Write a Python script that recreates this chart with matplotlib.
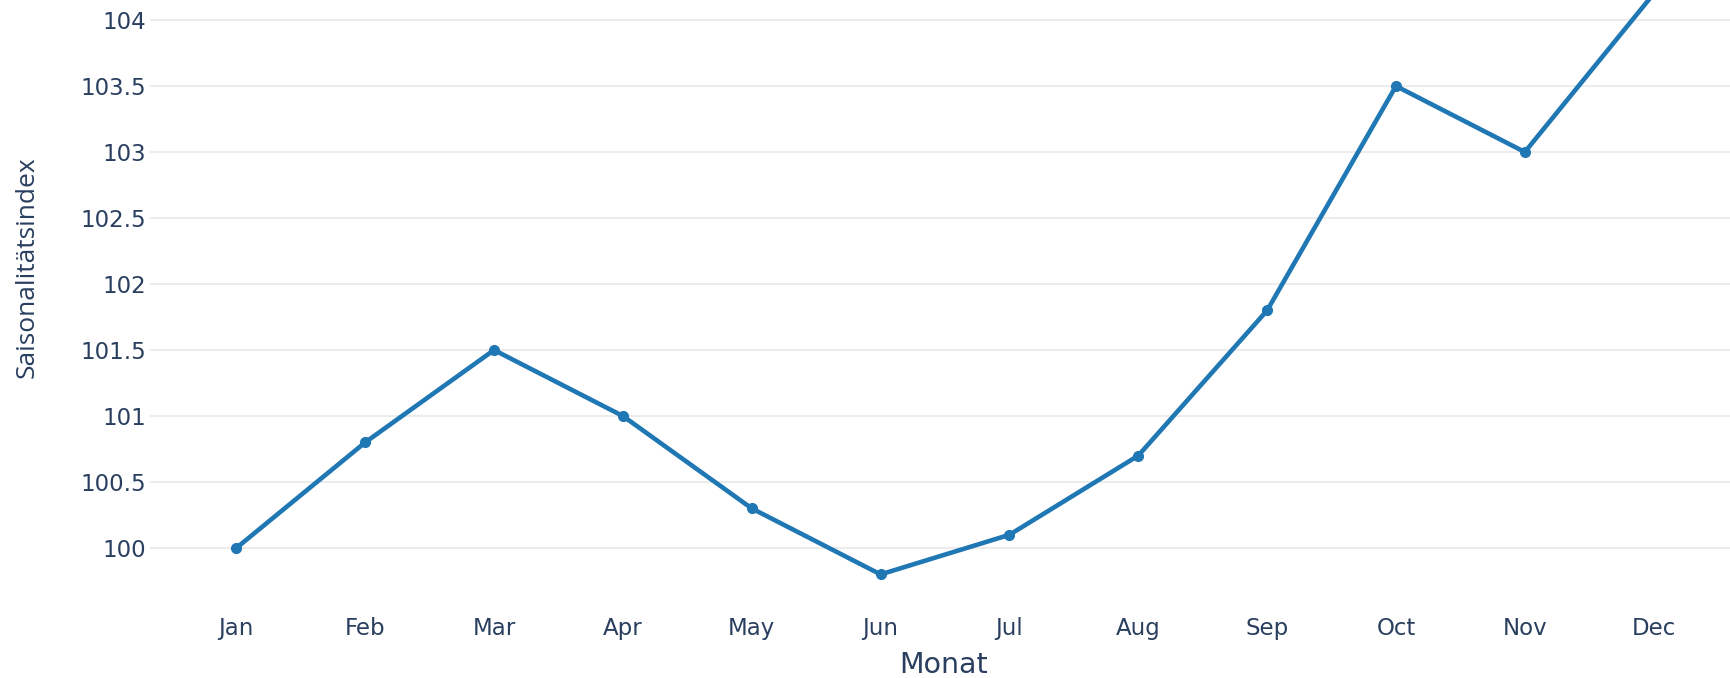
import matplotlib
matplotlib.use("Agg")
import matplotlib.pyplot as plt

months = ["Jan", "Feb", "Mar", "Apr", "May", "Jun", "Jul", "Aug", "Sep", "Oct", "Nov", "Dec"]
index_values = [100.0, 100.8, 101.5, 101.0, 100.3, 99.8, 100.1, 100.7, 101.8, 103.5, 103.0, 104.2]
y_ticks = [100, 100.5, 101, 101.5, 102, 102.5, 103, 103.5, 104]
y_tick_labels = ["100", "100.5", "101", "101.5", "102", "102.5", "103", "103.5", "104"]

W, H = 1731, 678
fig = plt.figure(figsize=(W / 100, H / 100), dpi=100)
ax = fig.add_axes([150 / W, (H - 607) / H, 1 - 150 / W, 607 / H])

text_color = "#2a3f5f"
x = list(range(len(months)))
ax.plot(x, index_values, color="#1f77b4", linewidth=3.3, marker="o", markersize=7, zorder=3)

ax.set_xlim(-0.67, 11.6)
ax.set_ylim(99.553, 104.152)
ax.set_yticks(y_ticks)
ax.set_yticklabels(y_tick_labels)
ax.set_xticks(x)
ax.set_xticklabels(months)

ax.grid(axis="y", color="#ebebeb", linewidth=1.3)
ax.grid(axis="x", visible=False)
ax.set_axisbelow(True)
for s in ax.spines.values():
    s.set_visible(False)
ax.tick_params(axis="both", length=0, colors=text_color, labelsize=16.5)
ax.tick_params(axis="y", pad=3)
ax.tick_params(axis="x", pad=7)

fig.text(944 / W, 1 - 665 / H, "Monat", ha="center", va="center", fontsize=20.5, color=text_color)
fig.text(27 / W, 1 - 267 / H, "Saisonalitätsindex", ha="center", va="center", rotation=90,
         fontsize=19, color=text_color, family="Open Sans")

fig.savefig("out.png", dpi=100)
